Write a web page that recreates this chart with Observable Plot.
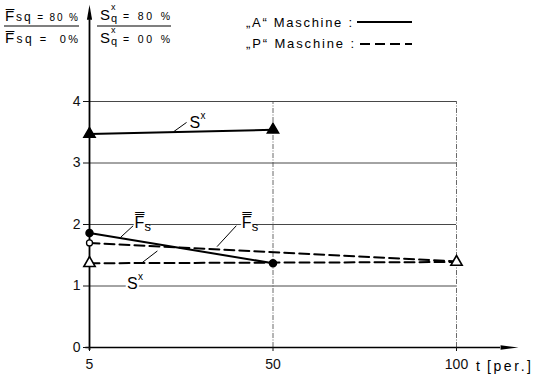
<!DOCTYPE html>
<html><head><meta charset="utf-8">
<script src="https://cdn.jsdelivr.net/npm/d3@7"></script>
<script src="https://cdn.jsdelivr.net/npm/@observablehq/plot@0.6"></script>
<style>
body{margin:0;background:#fff;}
svg{font-family:"Liberation Sans",Arial,sans-serif;}
</style></head><body><div id="chart"></div>
<script>
// categories on the t axis (equally spaced)
const tLabels = [5, 50, 100];
const yTicks = [0, 1, 2, 3, 4];
const gridY = [1, 2, 3, 4];
const gridT = [50, 100];
// "A" Maschine (solid)
const tA = [5, 50];
const sxA = [3.47, 3.54];
const fsA = [1.86, 1.37];
// "P" Maschine (dashed)
const tP = [5, 100];
const fsP = [1.70, 1.40];
const sxP = [1.37, 1.39];
// curve labels: main, sub, sup, t-position (index), y
const labelText = ["S", "F\u033F", "F\u033F", "S"];
const labelSub = ["", "s", "s", ""];
const labelSup = ["x", "", "", "x"];
const labelX = [0.545, 0.245, 0.83, 0.205];
const labelY = [3.65, 2.03, 2.02, 1.04];
// leader lines
const leadX1 = [0.459, 0.169, 0.695, 0.287], leadY1 = [3.51, 1.79, 1.64, 1.38];
const leadX2 = [0.529, 0.238, 0.80, 0.37], leadY2 = [3.66, 1.98, 1.98, 1.57];

const xi = t => tLabels.indexOf(t);
const rows = (ts, vs) => ts.map((t, i) => ({x: xi(t), y: vs[i]}));
const A_sx = rows(tA, sxA), A_fs = rows(tA, fsA);
const P_fs = rows(tP, fsP), P_sx = rows(tP, sxP);
const labels = labelText.map((m, i) => ({m, sub: labelSub[i], sup: labelSup[i], x: labelX[i], y: labelY[i]}));
const leaders = leadX1.map((x1, i) => ({x1, y1: leadY1[i], x2: leadX2[i], y2: leadY2[i]}));

const arrowUp = {draw(c){ c.moveTo(0,-15); c.lineTo(2.6,0); c.lineTo(-2.6,0); c.closePath(); }};
const arrowRight = {draw(c){ c.moveTo(18,0); c.lineTo(0,-2.3); c.lineTo(0,2.3); c.closePath(); }};
const yTop = 5.33, xEnd = 2.24;

const svg = Plot.plot({
  width: 541, height: 384,
  marginLeft: 89, marginRight: 85, marginTop: 101, marginBottom: 37,
  x: {type: "linear", domain: [0, 2]},
  y: {domain: [0, 4]},
  style: {fontFamily: "Liberation Sans, Arial, sans-serif", color: "#111", background: "white"},
  marks: [
    Plot.ruleY(gridY, {x1: 0, x2: 2, stroke: "#333", strokeWidth: 0.9}),
    Plot.ruleX(gridT.map(xi), {y1: 0, y2: 4, stroke: "#444", strokeWidth: 0.8, strokeDasharray: "5,1.5,1,1.5"}),
    // axes lines with arrows
    Plot.ruleX([0], {y1: -0.05, y2: yTop, stroke: "#000", strokeWidth: 1.8}),
    Plot.ruleY([0], {x1: -0.02, x2: xEnd, stroke: "#000", strokeWidth: 1.5}),
    Plot.dot([{x: 0, y: yTop}], {x: "x", y: "y", symbol: arrowUp, fill: "#000", stroke: "none"}),
    Plot.dot([{x: xEnd, y: 0}], {x: "x", y: "y", symbol: arrowRight, fill: "#000", stroke: "none"}),
    Plot.axisY({ticks: yTicks, tickSize: 6, tickPadding: 3, fontSize: 14, tickFormat: d => d}),
    Plot.axisX({ticks: [0, 1, 2], tickSize: 4, tickPadding: 8, fontSize: 14, tickFormat: i => tLabels[i], label: null}),
    // leaders and labels
    Plot.link(leaders, {x1: "x1", y1: "y1", x2: "x2", y2: "y2", stroke: "#000", strokeWidth: 1}),
    Plot.text(labels, {x: "x", y: "y", text: "m", fontSize: 16, textAnchor: "start", fill: "#000", stroke: "white", strokeWidth: 4, paintOrder: "stroke"}),
    Plot.text(labels, {x: "x", y: "y", text: "sup", fontSize: 10, textAnchor: "start", fill: "#000", dx: 11, dy: -7}),
    Plot.text(labels, {x: "x", y: "y", text: "sub", fontSize: 13, textAnchor: "start", fill: "#000", dx: 10, dy: 4}),
    // series
    Plot.line(P_fs, {x: "x", y: "y", stroke: "#000", strokeWidth: 2, strokeDasharray: "10,5"}),
    Plot.line(P_sx, {x: "x", y: "y", stroke: "#000", strokeWidth: 2, strokeDasharray: "10,5"}),
    Plot.line(A_sx, {x: "x", y: "y", stroke: "#000", strokeWidth: 2}),
    Plot.line(A_fs, {x: "x", y: "y", stroke: "#000", strokeWidth: 2}),
    Plot.dot(A_sx, {x: "x", y: "y", symbol: "triangle", r: 4.2, fill: "#000", stroke: "#000"}),
    Plot.dot(A_fs, {x: "x", y: "y", r: 3.5, fill: "#000", stroke: "#000"}),
    Plot.dot(P_fs.slice(0, 1), {x: "x", y: "y", r: 3, fill: "white", stroke: "#000", strokeWidth: 1.3}),
    Plot.dot(P_sx, {x: "x", y: "y", symbol: "triangle", r: 4.2, fill: "white", stroke: "#000", strokeWidth: 1.6})
  ]
});
document.getElementById("chart").appendChild(svg);

// header, legend, axis title
const s = d3.select(svg).append("g").attr("fill", "#000").attr("text-anchor", "start")
  .style("font-family", "Liberation Sans, Arial, sans-serif");
function header(x, y, len, parts) {
  const t = s.append("text").attr("x", x).attr("y", y).attr("textLength", len).attr("lengthAdjust", "spacing");
  parts.forEach(([str, fs]) => t.append("tspan").attr("font-size", fs).text(str));
}
header(5, 21, 73, [["F\u0305", 15], ["sq", 12], [" = 80 %", 10]]);
header(5, 43, 73, [["F\u0305", 15], ["sq", 12], [" =  0%", 11]]);
s.append("line").attr("x1", 4).attr("x2", 79).attr("y1", 26).attr("y2", 26).attr("stroke", "#000").attr("stroke-width", 1.2);
s.append("line").attr("x1", 97).attr("x2", 171).attr("y1", 26).attr("y2", 26).attr("stroke", "#000").attr("stroke-width", 1.2);
function sq(x, y, rest) {
  s.append("text").attr("x", x).attr("y", y).attr("font-size", 15).text("S");
  s.append("text").attr("x", x + 11).attr("y", y - 10).attr("font-size", 9).text("x");
  s.append("text").attr("x", x + 11).attr("y", y + 2).attr("font-size", 11).text("q");
  s.append("text").attr("x", x + 23).attr("y", y).attr("font-size", 10.5).attr("textLength", 47).attr("lengthAdjust", "spacing").text(rest);
}
sq(100, 20, "= 80 %");
sq(100, 43, "= 00 %");
s.append("text").attr("x", 246).attr("y", 27).attr("font-size", 13).attr("textLength", 106).attr("lengthAdjust", "spacing").text("\u201EA\u201C Maschine :");
s.append("text").attr("x", 246).attr("y", 48).attr("font-size", 13).attr("textLength", 108).attr("lengthAdjust", "spacing").text("\u201EP\u201C Maschine :");
s.append("line").attr("x1", 357).attr("x2", 412).attr("y1", 22).attr("y2", 22).attr("stroke", "#000").attr("stroke-width", 1.8);
s.append("line").attr("x1", 360).attr("x2", 412).attr("y1", 44).attr("y2", 44).attr("stroke", "#000").attr("stroke-width", 1.8).attr("stroke-dasharray", "10,5");
s.append("text").attr("x", 476).attr("y", 371).attr("font-size", 14).text("t");
s.append("text").attr("x", 487).attr("y", 371).attr("font-size", 14).attr("textLength", 44).attr("lengthAdjust", "spacing").text("[per.]");
</script></body></html>
